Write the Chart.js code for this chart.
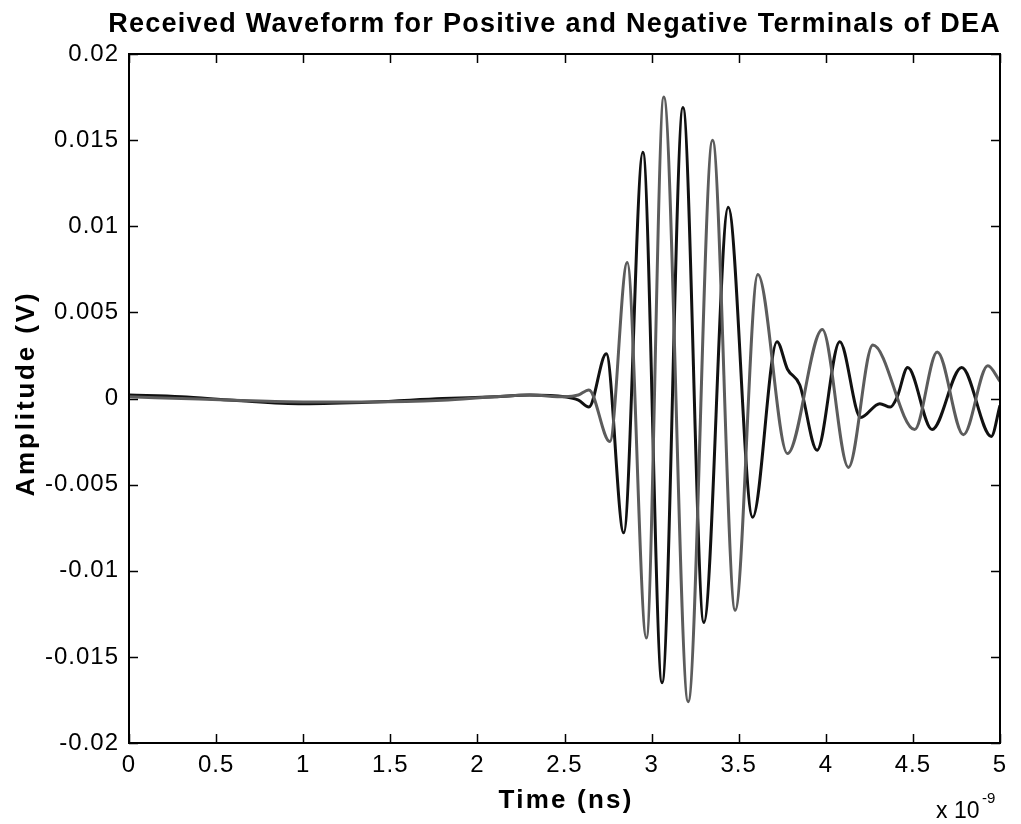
<!DOCTYPE html>
<html>
<head>
<meta charset="utf-8">
<script src="https://cdn.jsdelivr.net/npm/chart.js@4"></script>
<style>
html,body{margin:0;padding:0;background:#fff;}
#wrap{position:relative;width:1021px;height:824px;}
</style>
</head>
<body>
<div id="wrap"><canvas id="c" width="1021" height="824"></canvas></div>
<script>
// ---- data (time in ns, amplitude in V) ----
const blackTime = [0, 0.3, 0.6, 1.0, 1.4, 1.8, 2.1, 2.3, 2.5, 2.58, 2.64, 2.74, 2.84, 2.95, 3.06, 3.18, 3.30, 3.44, 3.58, 3.72, 3.78, 3.85, 3.95, 4.08, 4.20, 4.31, 4.37, 4.41, 4.47, 4.61, 4.78, 4.95, 5.0];
const blackAmp  = [0.0002, 0.0001, -0.0001, -0.0003, -0.0002, 0.0000, 0.0001, 0.0002, 0.0001, -0.0001, -0.0005, 0.0026, -0.0078, 0.0143, -0.0165, 0.0169, -0.0130, 0.0111, -0.0069, 0.0033, 0.0017, 0.0008, -0.0030, 0.0033, -0.0011, -0.0003, -0.0005, 0.0001, 0.0018, -0.0018, 0.0018, -0.0022, -0.0004];
const grayTime  = [0, 0.3, 0.6, 1.0, 1.4, 1.8, 2.1, 2.3, 2.5, 2.58, 2.64, 2.76, 2.86, 2.97, 3.07, 3.21, 3.35, 3.48, 3.61, 3.78, 3.98, 4.13, 4.27, 4.51, 4.64, 4.79, 4.93, 5.0];
const grayAmp   = [0.0001, 0.0000, -0.0001, -0.0002, -0.0002, -0.0001, 0.0001, 0.0002, 0.0001, 0.0002, 0.0005, -0.0025, 0.0079, -0.0139, 0.0175, -0.0176, 0.0150, -0.0123, 0.0072, -0.0032, 0.0040, -0.0040, 0.0031, -0.0018, 0.0027, -0.0021, 0.0019, 0.0010];
const xTicks = [0, 0.5, 1, 1.5, 2, 2.5, 3, 3.5, 4, 4.5, 5];
const xTickLabels = ['0', '0.5', '1', '1.5', '2', '2.5', '3', '3.5', '4', '4.5', '5'];
const yTicks = [-0.02, -0.015, -0.01, -0.005, 0, 0.005, 0.01, 0.015, 0.02];
const yTickLabels = ['-0.02', '-0.015', '-0.01', '-0.005', '0', '0.005', '0.01', '0.015', '0.02'];
const titleText = 'Received Waveform for Positive and Negative Terminals of DEA';
const xTitle = 'Time (ns)';
const yTitle = 'Amplitude (V)';

const FONT = '"Liberation Sans", Arial, Helvetica, sans-serif';

function toPts(t, v) { return t.map((x, i) => ({x: x, y: v[i]})); }
function labelFor(ticks, labels, v) {
  for (let i = 0; i < ticks.length; i++) if (Math.abs(ticks[i] - v) < 1e-9) return labels[i];
  return '';
}

function spacedText(ctx, text, x, y, targetW) {
  ctx.letterSpacing = '0px';
  const w = ctx.measureText(text).width;
  const ls = targetW ? (targetW - w) / (text.length) : 0;
  ctx.letterSpacing = ls + 'px';
  ctx.fillText(text, x + ls / 2, y);
  ctx.letterSpacing = '0px';
}

const framePlugin = {
  id: 'frame',
  beforeDraw(chart) {
    chart.ctx.letterSpacing = '1px';
  },
  afterDraw(chart) {
    const ctx = chart.ctx;
    const a = chart.chartArea;
    const xs = chart.scales.x, ys = chart.scales.y;
    ctx.save();
    ctx.letterSpacing = '0px';
    ctx.strokeStyle = '#000';
    ctx.lineWidth = 2;
    ctx.strokeRect(a.left, a.top, a.right - a.left, a.bottom - a.top);
    ctx.lineWidth = 1.5;
    const tl = 9;
    ctx.beginPath();
    xTicks.forEach(v => {
      const p = Math.round(xs.getPixelForValue(v)) + 0.5;
      ctx.moveTo(p, a.bottom); ctx.lineTo(p, a.bottom - tl);
      ctx.moveTo(p, a.top); ctx.lineTo(p, a.top + tl);
    });
    yTicks.forEach(v => {
      const p = Math.round(ys.getPixelForValue(v)) + 0.5;
      ctx.moveTo(a.left, p); ctx.lineTo(a.left + tl, p);
      ctx.moveTo(a.right, p); ctx.lineTo(a.right - tl, p);
    });
    ctx.stroke();

    ctx.fillStyle = '#000';
    ctx.textAlign = 'center';
    ctx.textBaseline = 'alphabetic';
    ctx.font = 'bold 27px ' + FONT;
    spacedText(ctx, titleText, 554, 32, 893);
    ctx.font = 'bold 26px ' + FONT;
    spacedText(ctx, xTitle, 565, 808, 135);
    ctx.save();
    ctx.translate(34, 395);
    ctx.rotate(-Math.PI / 2);
    spacedText(ctx, yTitle, 0, 0, 206);
    ctx.restore();

    ctx.font = '23px ' + FONT;
    ctx.textAlign = 'left';
    ctx.fillText('x 10', 936, 818);
    ctx.font = '15px ' + FONT;
    ctx.fillText('-9', 982, 803);
    ctx.restore();
  }
};

new Chart(document.getElementById('c'), {
  type: 'line',
  data: {
    datasets: [
      { label: 'Negative terminal', data: toPts(grayTime, grayAmp), borderColor: '#5c5c5c', borderWidth: 3,
        pointRadius: 0, fill: false, cubicInterpolationMode: 'monotone' },
      { label: 'Positive terminal', data: toPts(blackTime, blackAmp), borderColor: '#111111', borderWidth: 3,
        pointRadius: 0, fill: false, cubicInterpolationMode: 'monotone' }
    ]
  },
  options: {
    responsive: false,
    animation: false,
    devicePixelRatio: 1,
    layout: { padding: { top: 54, right: 21, left: 0, bottom: 0 } },
    plugins: { legend: { display: false }, title: { display: false }, tooltip: { enabled: false } },
    scales: {
      x: {
        type: 'linear', min: 0, max: 5,
        afterBuildTicks: s => { s.ticks = xTicks.map(v => ({value: v})); },
        afterFit: s => { s.height = 81; },
        grid: { display: false, drawTicks: false },
        border: { display: false },
        ticks: { color: '#000', font: { family: FONT, size: 24 }, padding: 8, maxRotation: 0, autoSkip: false,
                 callback: v => labelFor(xTicks, xTickLabels, v) }
      },
      y: {
        type: 'linear', min: -0.02, max: 0.02,
        afterBuildTicks: s => { s.ticks = yTicks.map(v => ({value: v})); },
        afterFit: s => { s.width = 129; },
        grid: { display: false, drawTicks: false },
        border: { display: false },
        ticks: { color: '#000', font: { family: FONT, size: 24 }, padding: 10, autoSkip: false,
                 callback: v => labelFor(yTicks, yTickLabels, v) }
      }
    }
  },
  plugins: [framePlugin]
});
</script>
</body>
</html>
